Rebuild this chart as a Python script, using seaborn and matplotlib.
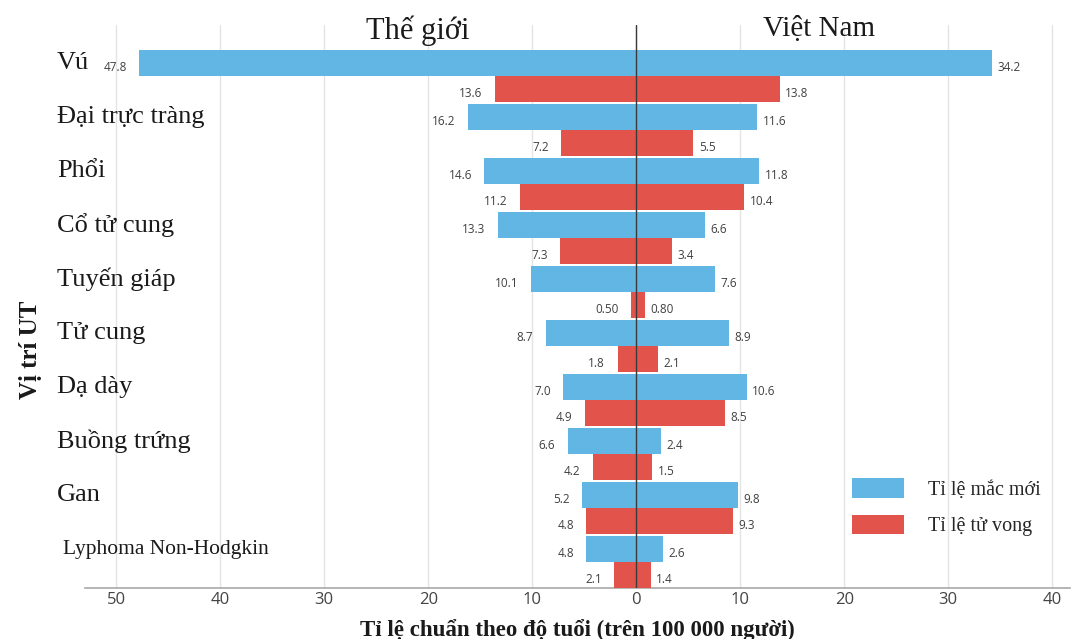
import numpy as np
import pandas as pd
import seaborn as sns
import matplotlib.pyplot as plt
from matplotlib.patches import Patch

# Age-standardised rates per 100 000 people, by cancer site
categories = ["Vú", "Đại trực tràng", "Phổi", "Cổ tử cung", "Tuyến giáp",
              "Tử cung", "Dạ dày", "Buồng trứng", "Gan", "Lyphoma Non-Hodgkin"]
world_incidence = [47.8, 16.2, 14.6, 13.3, 10.1, 8.7, 7.0, 6.6, 5.2, 4.8]
world_mortality = [13.6, 7.2, 11.2, 7.3, 0.50, 1.8, 4.9, 4.2, 4.8, 2.1]
vn_incidence = [34.2, 11.6, 11.8, 6.6, 7.6, 8.9, 10.6, 2.4, 9.8, 2.6]
vn_mortality = [13.8, 5.5, 10.4, 3.4, 0.80, 2.1, 8.5, 1.5, 9.3, 1.4]
series = ["Tỉ lệ mắc mới", "Tỉ lệ tử vong"]
regions = ["Thế giới", "Việt Nam"]
x_ticks = [-50, -40, -30, -20, -10, 0, 10, 20, 30, 40]

BLUE = "#62B6E3"
RED = "#E2534C"
palette = {series[0]: BLUE, series[1]: RED}

rows = []
for i, cat in enumerate(categories):
    rows.append((cat, series[0], regions[0], -world_incidence[i], world_incidence[i]))
    rows.append((cat, series[1], regions[0], -world_mortality[i], world_mortality[i]))
    rows.append((cat, series[0], regions[1], vn_incidence[i], vn_incidence[i]))
    rows.append((cat, series[1], regions[1], vn_mortality[i], vn_mortality[i]))
df = pd.DataFrame(rows, columns=["site", "series", "region", "signed", "rate"])

sns.set_theme(style="white")
plt.rcParams["font.family"] = ["Liberation Serif", "DejaVu Serif"]

fig = plt.figure(figsize=(10.73, 6.39), dpi=100)
ax = fig.add_axes([85 / 1073, 1 - 588 / 639, 985 / 1073, 563 / 639])

BAR_W = 0.96
for reg in regions:
    sub = df[df["region"] == reg]
    sns.barplot(data=sub, y="site", x="signed", hue="series", order=categories,
                hue_order=series, palette=palette, orient="h", width=BAR_W,
                dodge=True, gap=0, saturation=1, errorbar=None, legend=False,
                linewidth=0, ax=ax, zorder=3)

ax.set_xlim(-53, 41.7)
y_top, y_bot = -0.944, 9.48
ax.set_ylim(y_bot, y_top)

# grid, centre line and axis
ax.set_xticks(x_ticks)
ax.set_xticklabels([str(abs(t)) for t in x_ticks], family="Open Sans",
                   fontsize=12, color="#444444")
ax.tick_params(axis="x", length=0, pad=3)
ax.set_yticks([])
ax.grid(axis="x", color="#e4e4e4", linewidth=1, zorder=0)
ax.set_axisbelow(True)
for side in ["left", "right", "top"]:
    ax.spines[side].set_visible(False)
ax.spines["bottom"].set_color("#a8a8a8")
ax.spines["bottom"].set_linewidth(1.2)
ax.axvline(0, color="#3a3a3a", linewidth=1, zorder=4)
ax.set_xlabel("")
ax.set_ylabel("")


def fmt(v):
    return f"{v:.2f}" if v < 1 else f"{v:.1f}"


off = BAR_W / 4
label_kw = dict(textcoords="offset points", va="center", fontsize=8.5,
                family="Open Sans", color="#404040", zorder=5)
for i, cat in enumerate(categories):
    for k, (w, v) in enumerate([(world_incidence[i], vn_incidence[i]),
                                (world_mortality[i], vn_mortality[i])]):
        yc = i - off if k == 0 else i + off
        ax.annotate(fmt(w), xy=(-w, yc), xytext=(-9, -3), ha="right", **label_kw)
        ax.annotate(fmt(v), xy=(v, yc), xytext=(4, -3), ha="left", **label_kw)
    long_name = len(cat) > 15
    ax.text(-55.1 if long_name else -55.7, i - off, cat, ha="left", va="center",
            fontsize=15.5 if long_name else 19, color="#1a1a1a", clip_on=False)

# region headings
ax.text(-21, -0.83, regions[0], ha="center", va="center", fontsize=22, color="#1a1a1a")
ax.text(17.6, -0.87, regions[1], ha="center", va="center", fontsize=21, color="#1a1a1a")

handles = [Patch(facecolor=palette[s], edgecolor="none") for s in series]
ax.legend(handles, series, loc="upper left", bbox_to_anchor=(0.779, 0.195),
          frameon=False, fontsize=14.5, handlelength=2.55, handleheight=1.1,
          handletextpad=1.2, labelspacing=0.75, borderpad=0, borderaxespad=0)

fig.text(30 / 1073, 1 - 350 / 639, "Vị trí UT", rotation=90, ha="center",
         va="center", fontsize=18, fontweight="bold", color="#1a1a1a")
fig.text(577 / 1073, 1 - 630 / 639, "Tỉ lệ chuẩn theo độ tuổi (trên 100 000 người)",
         ha="center", va="center", fontsize=16.5, fontweight="bold", color="#1a1a1a")

fig.savefig("out.png", dpi=100)
